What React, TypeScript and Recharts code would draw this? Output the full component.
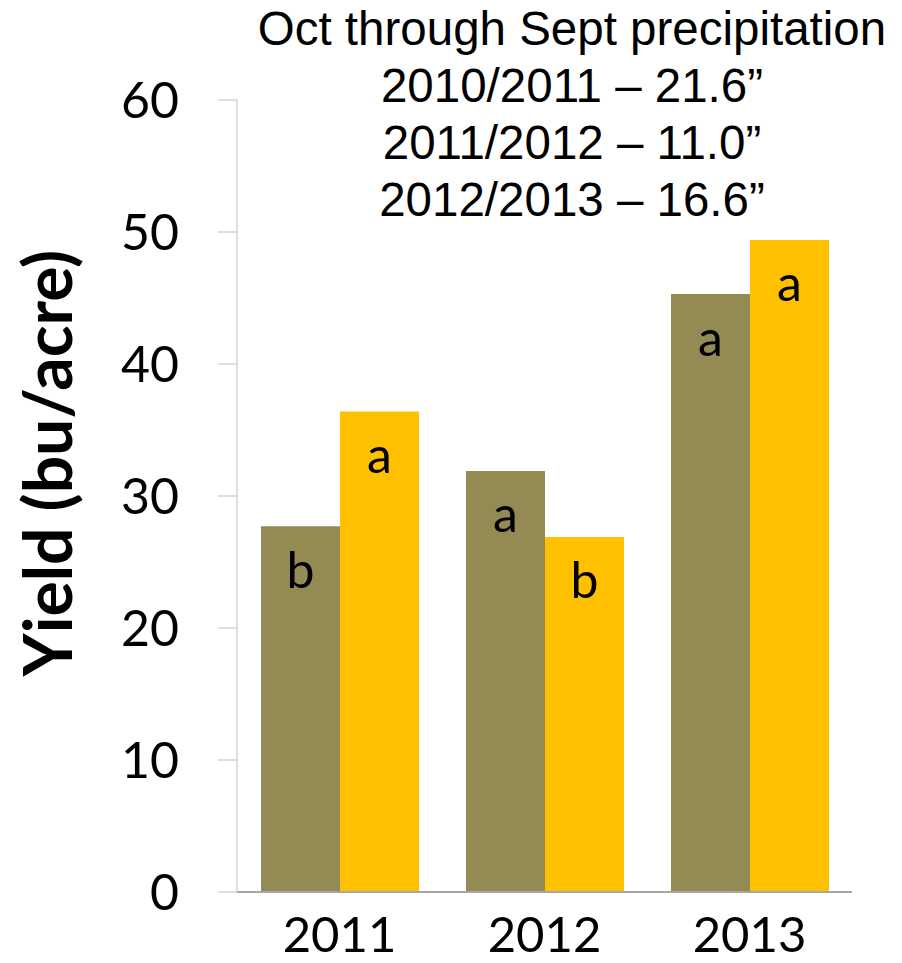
import { Bar, BarChart, XAxis, YAxis, LabelList } from "recharts";

const years = ["2011", "2012", "2013"];
const oliveYield = [27.7, 31.9, 45.3];
const goldYield = [36.4, 26.9, 49.4];
const oliveLetters = ["b", "a", "a"];
const goldLetters = ["a", "b", "a"];
const yTicks = [0, 10, 20, 30, 40, 50, 60];
const titleLines = [
    "Oct through Sept precipitation",
    "2010/2011 – 21.6”",
    "2011/2012 – 11.0”",
    "2012/2013 – 16.6”",
];

const data = years.map((year, i) => ({
    year,
    olive: oliveYield[i],
    gold: goldYield[i],
    oliveLetter: oliveLetters[i],
    goldLetter: goldLetters[i],
}));

const yTickFont = { fontFamily: "Lato, sans-serif", fontSize: 50, fill: "#000" };
const xTickFont = { fontFamily: "Lato, sans-serif", fontSize: 49, fill: "#000" };
const letterStyle = { fontFamily: "Lato, sans-serif", fontSize: 50, fill: "#000" };

export default function App() {
    return (
        <div style={{ position: "absolute", left: 0, top: 0, width: 902, height: 963, background: "#fff" }}>
            <BarChart
                width={902}
                height={963}
                data={data}
                margin={{ top: 100, right: 50, bottom: 0, left: 0 }}
                barGap={0}
                barCategoryGap={24}
            >
                <XAxis
                    dataKey="year"
                    tickLine={false}
                    tickSize={0}
                    tickMargin={25}
                    axisLine={{ stroke: "#A6A6A6", strokeWidth: 2 }}
                    tick={xTickFont}
                    height={71}
                />
                <YAxis
                    width={237}
                    domain={[0, 60]}
                    ticks={yTicks}
                    interval={0}
                    tickSize={19}
                    tickMargin={39}
                    axisLine={{ stroke: "#BFBFBF" }}
                    tickLine={{ stroke: "#BFBFBF" }}
                    tick={yTickFont}
                    label={{
                        content: () => (
                            <text
                                x={0}
                                y={0}
                                transform="translate(72,463) rotate(-90)"
                                textAnchor="middle"
                                fontFamily="Lato, sans-serif"
                                fontWeight="bold"
                                fontSize={66}
                                fill="#000"
                            >
                                Yield (bu/acre)
                            </text>
                        ),
                    }}
                />
                <Bar dataKey="olive" fill="#948A54" isAnimationActive={false}>
                    <LabelList dataKey="oliveLetter" position="insideTop" offset={26} style={letterStyle} />
                </Bar>
                <Bar dataKey="gold" fill="#FFC000" isAnimationActive={false}>
                    <LabelList dataKey="goldLetter" position="insideTop" offset={26} style={letterStyle} />
                </Bar>
            </BarChart>
            <div
                style={{
                    position: "absolute",
                    left: 372,
                    top: 0,
                    width: 400,
                    textAlign: "center",
                    fontFamily: "'Liberation Sans', Arial, sans-serif",
                    fontSize: 47.5,
                    lineHeight: "57px",
                    color: "#000",
                    whiteSpace: "nowrap",
                    display: "flex",
                    flexDirection: "column",
                    alignItems: "center",
                }}
            >
                {titleLines.map((line) => (
                    <div key={line}>{line}</div>
                ))}
            </div>
        </div>
    );
}
